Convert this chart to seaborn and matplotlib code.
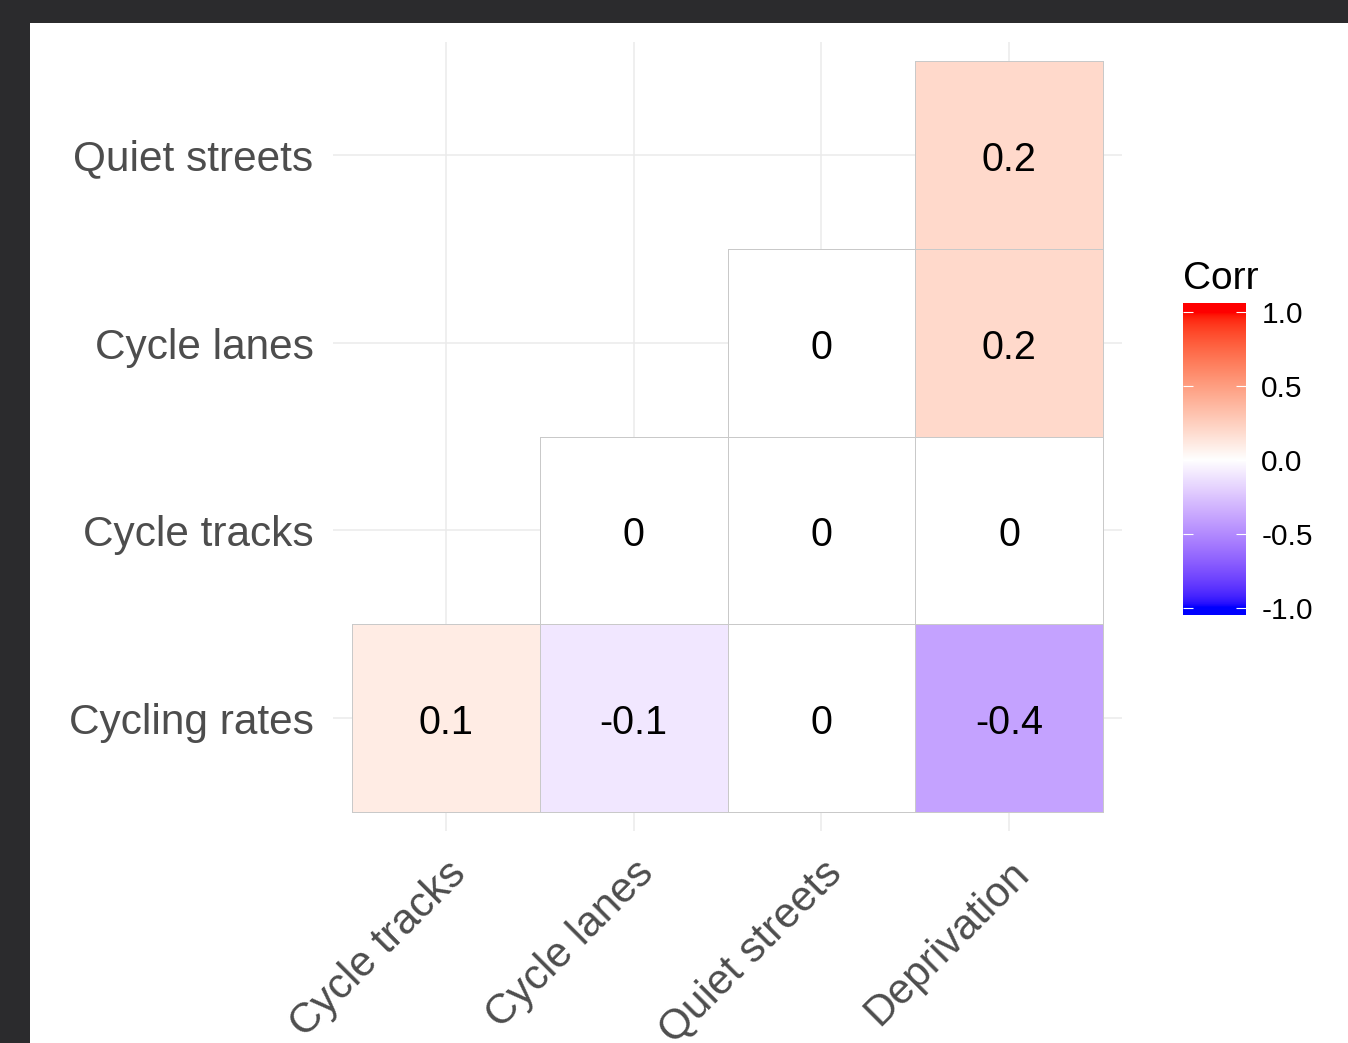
import numpy as np
import pandas as pd
import matplotlib
matplotlib.use("Agg")
import matplotlib.pyplot as plt
from matplotlib.colors import ListedColormap, Normalize
from matplotlib.patches import Rectangle
from matplotlib.transforms import ScaledTranslation
import seaborn as sns

# ---------------- data ----------------
row_labels = ["Quiet streets", "Cycle lanes", "Cycle tracks", "Cycling rates"]
col_labels = ["Cycle tracks", "Cycle lanes", "Quiet streets", "Deprivation"]
quiet_streets = [np.nan, np.nan, np.nan, 0.2]
cycle_lanes = [np.nan, np.nan, 0.0, 0.2]
cycle_tracks = [np.nan, 0.0, 0.0, 0.0]
cycling_rates = [0.1, -0.1, 0.0, -0.4]
cbar_ticks = [-1.0, -0.5, 0.0, 0.5, 1.0]
legend_title = "Corr"

# ---------------- Lab-interpolated blue-white-red palette ----------------
M = np.array([[0.4124, 0.3576, 0.1805],
              [0.2126, 0.7152, 0.0722],
              [0.0193, 0.1192, 0.9505]])
WHITE_PT = np.array([0.95047, 1.0, 1.08883])


def srgb_to_lab(rgb):
    rgb = np.asarray(rgb, float)
    lin = np.where(rgb <= 0.04045, rgb / 12.92, ((rgb + 0.055) / 1.055) ** 2.4)
    xyz = lin @ M.T / WHITE_PT
    f = np.where(xyz > 0.008856, np.cbrt(xyz), 7.787 * xyz + 16 / 116)
    return np.stack([116 * f[..., 1] - 16,
                     500 * (f[..., 0] - f[..., 1]),
                     200 * (f[..., 1] - f[..., 2])], -1)


def lab_to_srgb(lab):
    L, a, b = lab[..., 0], lab[..., 1], lab[..., 2]
    fy = (L + 16) / 116
    f = np.stack([fy + a / 500, fy, fy - b / 200], -1)
    xyz = np.where(f ** 3 > 0.008856, f ** 3, (f - 16 / 116) / 7.787) * WHITE_PT
    lin = np.clip(xyz @ np.linalg.inv(M).T, 0, 1)
    rgb = np.where(lin <= 0.0031308, 12.92 * lin, 1.055 * lin ** (1 / 2.4) - 0.055)
    return np.clip(rgb, 0, 1)


lab_blue = srgb_to_lab([0, 0, 1])
lab_white = srgb_to_lab([1, 1, 1])
lab_red = srgb_to_lab([1, 0, 0])
tt = np.linspace(-1, 1, 511)
labs = np.array([lab_white + (-t) * (lab_blue - lab_white) if t < 0
                 else lab_white + t * (lab_red - lab_white) for t in tt])
cmap = ListedColormap(lab_to_srgb(labs))
cmap.set_bad((0, 0, 0, 0))
norm = Normalize(-1, 1)

# ---------------- figure ----------------
plt.rcParams['font.family'] = ['Liberation Sans', 'DejaVu Sans']

W, H = 1348, 1043
fig = plt.figure(figsize=(W / 100, H / 100), dpi=100, facecolor="#2b2b2d")
fig.patches.append(Rectangle((30 / W, 0), 1 - 30 / W, (H - 23) / H,
                             transform=fig.transFigure, facecolor="white",
                             edgecolor="none", zorder=-10))

ax = fig.add_axes([333 / W, 1 - 831 / H, (1122 - 333) / W, (831 - 42) / H])
ax.set_facecolor((1, 1, 1, 0))

data = pd.DataFrame([quiet_streets, cycle_lanes, cycle_tracks, cycling_rates],
                    index=row_labels, columns=col_labels)
labels = data.apply(lambda col: col.map(lambda v: "" if pd.isna(v) else f"{v:g}"))
mask = data.isna()

sns.heatmap(data, ax=ax, cmap=cmap, vmin=-1, vmax=1, mask=mask,
            annot=labels.values, fmt="", cbar=False,
            annot_kws=dict(color="black", fontsize=28.5),
            linewidths=0.7, linecolor="#c8c8c8")

# hide borders of masked (empty) cells
mesh = ax.collections[0]
flat_mask = mask.values.ravel()
edge_cols = [(0, 0, 0, 0) if m else (0.79, 0.79, 0.79, 1) for m in flat_mask]
mesh.set_edgecolor(edge_cols)

# nudge annotation text to match glyph centring
shift = ScaledTranslation(0, -5 / 100, fig.dpi_scale_trans)
for t in ax.texts:
    t.set_transform(t.get_transform() + shift)

ax.set_xlim(-0.1, len(col_labels) + 0.1)
ax.set_ylim(len(row_labels) + 0.1, -0.1)
ax.set_axisbelow(True)
ax.grid(True, color="#ebebeb", linewidth=1.1)
for s in ax.spines.values():
    s.set_visible(False)

ax.set_xlabel("")
ax.set_ylabel("")
ax.tick_params(axis="both", length=0)
ax.tick_params(axis="y", pad=14)
ax.tick_params(axis="x", pad=16)
ax.set_yticklabels(row_labels, rotation=0, fontsize=30.5, color="#4d4d4d")
ax.set_xticklabels(col_labels, rotation=45, ha="right", va="top",
                   rotation_mode="anchor", fontsize=30.5, color="#4d4d4d")
for lbl in ax.get_yticklabels():
    lbl.set_transform(lbl.get_transform() + shift)

# ---------------- colour bar ----------------
cax = fig.add_axes([1183 / W, 1 - 615 / H, 63 / W, 312 / H])
grad = np.linspace(1.06, -1.05, 400)[:, None]
cax.imshow(grad, aspect="auto", cmap=cmap, norm=norm,
           extent=[0, 1, -1.05, 1.06], interpolation="bilinear")
cax.set_xlim(0, 1)
cax.set_ylim(-1.05, 1.06)
cax.set_xticks([])
cax.set_yticks(cbar_ticks)
cax.set_yticklabels([f"{v:.1f}" for v in cbar_ticks], fontsize=21.5, color="black")
cax.tick_params(axis="y", which="both", left=True, right=True, direction="in",
                length=7, width=0.8, colors="white", labelcolor="black",
                labelleft=False, labelright=True, pad=11)
for s in cax.spines.values():
    s.set_visible(False)

fig.text(1183 / W, 1 - 289 / H, legend_title, fontsize=28, color="black",
         ha="left", va="baseline")

fig.savefig("out.png", dpi=100, facecolor=fig.get_facecolor())
